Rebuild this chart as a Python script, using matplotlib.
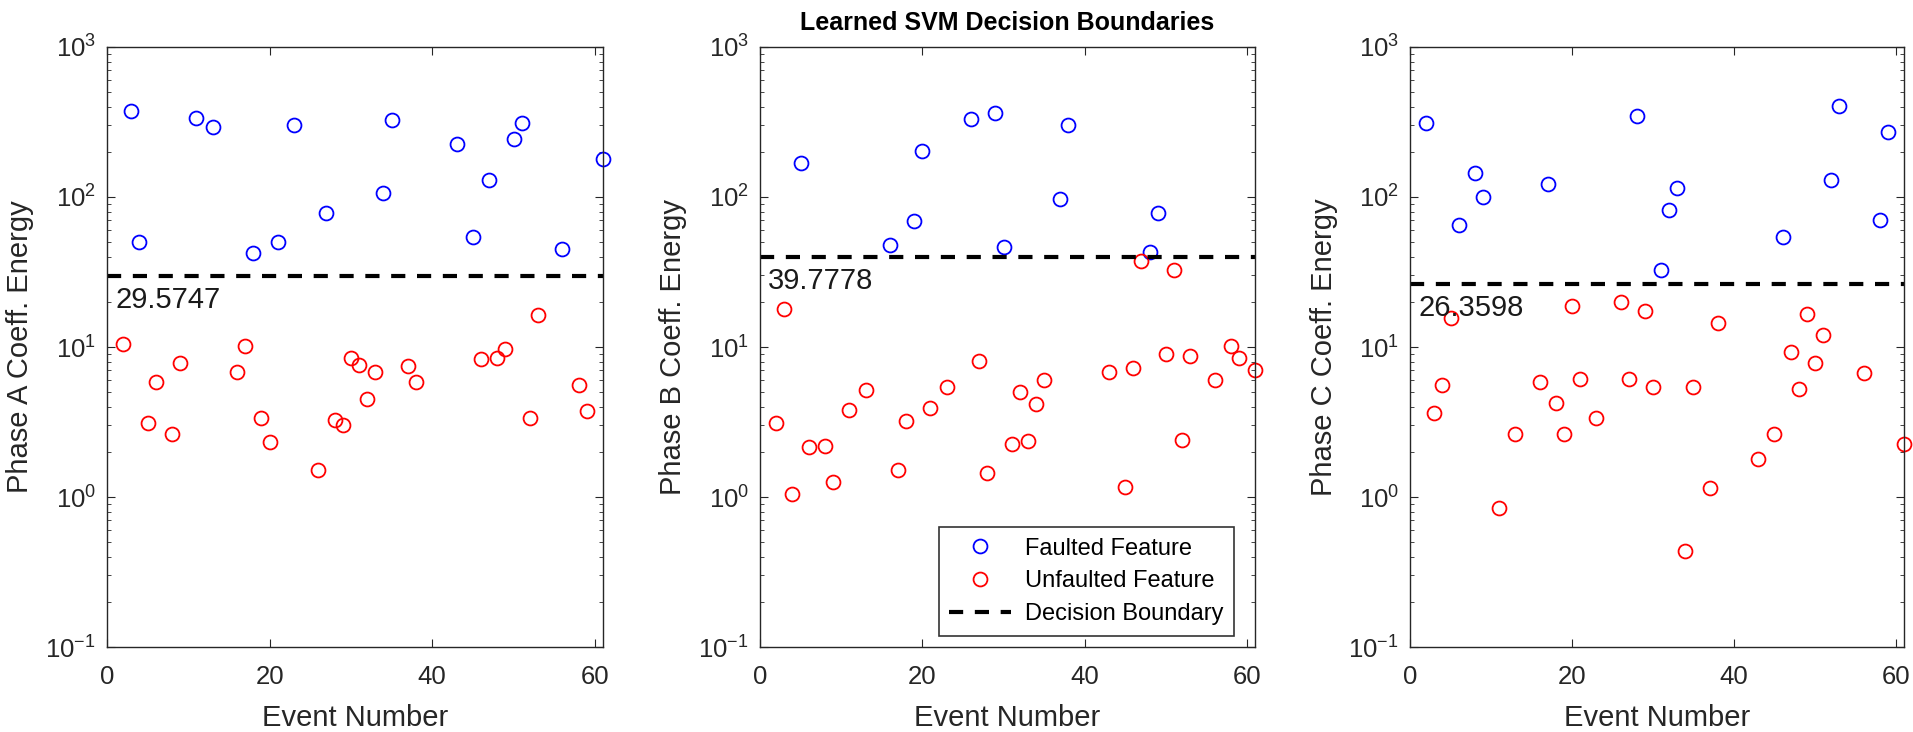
import matplotlib
matplotlib.use("Agg")
import matplotlib.pyplot as plt

plt.rcParams["font.family"] = ["Liberation Sans", "DejaVu Sans"]
plt.rcParams["mathtext.fontset"] = "custom"
plt.rcParams["mathtext.rm"] = "Liberation Sans"
plt.rcParams["axes.unicode_minus"] = False

# Phase A
a_fault_x = [3, 4, 11, 13, 18, 21, 23, 27, 34, 35, 43, 45, 47, 50, 51, 56, 61]
a_fault_y = [372, 50, 336, 293, 42.6, 50, 302, 78.8, 107, 326, 225, 54, 130, 244, 311, 45, 178]
a_unf_x = [2, 5, 6, 8, 9, 16, 17, 19, 20, 26, 28, 29, 30, 31, 32, 33, 37, 38, 46, 48, 49, 52, 53, 58, 59]
a_unf_y = [10.5, 3.11, 5.88, 2.64, 7.87, 6.85, 10.2, 3.36, 2.31, 1.52, 3.28, 3.02, 8.49, 7.63, 4.5,
           6.85, 7.47, 5.84, 8.28, 8.45, 9.7, 3.36, 16.4, 5.55, 3.74]

# Phase B
b_fault_x = [5, 16, 19, 20, 26, 29, 30, 37, 38, 48, 49]
b_fault_y = [169, 47.6, 68.9, 204, 330, 363, 46.2, 97, 302, 43, 78.7]
b_unf_x = [2, 3, 4, 6, 8, 9, 11, 13, 17, 18, 21, 23, 27, 28, 31, 32, 33, 34, 35, 43, 45, 46, 47,
           50, 51, 52, 53, 56, 58, 59, 61]
b_unf_y = [3.11, 17.8, 1.05, 2.14, 2.2, 1.26, 3.83, 5.14, 1.52, 3.19, 3.94, 5.41, 8.07, 1.44, 2.26,
           4.99, 2.38, 4.15, 6.03, 6.85, 1.17, 7.24, 37.2, 8.93, 32.8, 2.39, 8.71, 6.03, 10.2, 8.49, 7.07]

# Phase C
c_fault_x = [2, 6, 8, 9, 17, 28, 31, 32, 33, 46, 52, 53, 58, 59]
c_fault_y = [310, 65.5, 144, 99.5, 123, 345, 32.8, 82.4, 114, 54.1, 130, 404, 70.6, 273]
c_unf_x = [3, 4, 5, 11, 13, 16, 18, 19, 20, 21, 23, 26, 27, 29, 30, 34, 35, 37, 38, 43, 45, 47,
           48, 49, 50, 51, 56, 61]
c_unf_y = [3.63, 5.55, 15.7, 0.849, 2.64, 5.88, 4.26, 2.64, 18.9, 6.15, 3.36, 19.9, 6.15, 17.4,
           5.41, 0.436, 5.41, 1.14, 14.5, 1.78, 2.64, 9.2, 5.25, 16.5, 7.87, 12.0, 6.71, 2.26]

phases = ["A", "B", "C"]
boundaries = [29.5747, 39.7778, 26.3598]
n_events = 61

panels = [
    (a_fault_x, a_fault_y, a_unf_x, a_unf_y),
    (b_fault_x, b_fault_y, b_unf_x, b_unf_y),
    (c_fault_x, c_fault_y, c_unf_x, c_unf_y),
]

dark = "#262626"
fig = plt.figure(figsize=(19.13, 7.32), dpi=100)
fig.patch.set_facecolor("white")
lefts = [0.0559, 0.3973, 0.7371]
widths = [0.2593, 0.2588, 0.2582]

axes = []
for i, (fx, fy, ux, uy) in enumerate(panels):
    ax = fig.add_axes([lefts[i], 0.1161, widths[i], 0.8197])
    axes.append(ax)
    h1, = ax.plot(fx, fy, "o", mfc="none", mec="blue", ms=10, mew=1.3,
                  clip_on=False, label="Faulted Feature")
    h2, = ax.plot(ux, uy, "o", mfc="none", mec="red", ms=10, mew=1.3,
                  clip_on=False, label="Unfaulted Feature")
    h3, = ax.plot([0, n_events], [boundaries[i]] * 2, "--", color="black", lw=3,
                  dashes=(3.4, 2.8), label="Decision Boundary")
    ax.annotate(f"{boundaries[i]:.4f}", xy=(1, boundaries[i]), xytext=(0, -7),
                textcoords="offset points", ha="left", va="top", fontsize=21, color="#1a1a1a")
    ax.set_yscale("log")
    ax.set_xlim(0, n_events)
    ax.set_ylim(0.1, 1000)
    ax.set_xticks([0, 20, 40, 60])
    ax.set_yticks([0.1, 1, 10, 100, 1000])
    ax.tick_params(axis="both", which="both", direction="in", top=True, right=True,
                   colors=dark, labelcolor=dark)
    ax.tick_params(axis="x", which="major", labelsize=18.5, length=6, pad=13)
    ax.tick_params(axis="y", which="major", labelsize=18.5, length=6, pad=8)
    ax.tick_params(axis="y", which="minor", length=3)
    for sp in ax.spines.values():
        sp.set_color(dark)
        sp.set_linewidth(1.0)
    ax.set_xlabel("Event Number", fontsize=21, color=dark)
    ax.xaxis.set_label_coords(0.5, -0.118)
    ax.xaxis.label.set_va("center")
    ax.set_ylabel(f"Phase {phases[i]} Coeff. Energy", fontsize=21, color=dark)
    ax.yaxis.set_label_coords(-0.175, 0.5)
    ax.yaxis.label.set_va("center")
    if i == 1:
        handles = [h1, h2, h3]

axes[1].set_title("Learned SVM Decision Boundaries", fontsize=18, fontweight="bold",
                  color="black", pad=12)
leg = axes[1].legend(handles=handles, loc="lower right", bbox_to_anchor=(0.957, 0.019),
                     fontsize=17, frameon=True, fancybox=False, edgecolor="black",
                     handlelength=2.6, handletextpad=0.6, borderpad=0.45,
                     labelspacing=0.45, borderaxespad=0)
leg.get_frame().set_linewidth(1.2)

fig.savefig("out.png", dpi=100)
